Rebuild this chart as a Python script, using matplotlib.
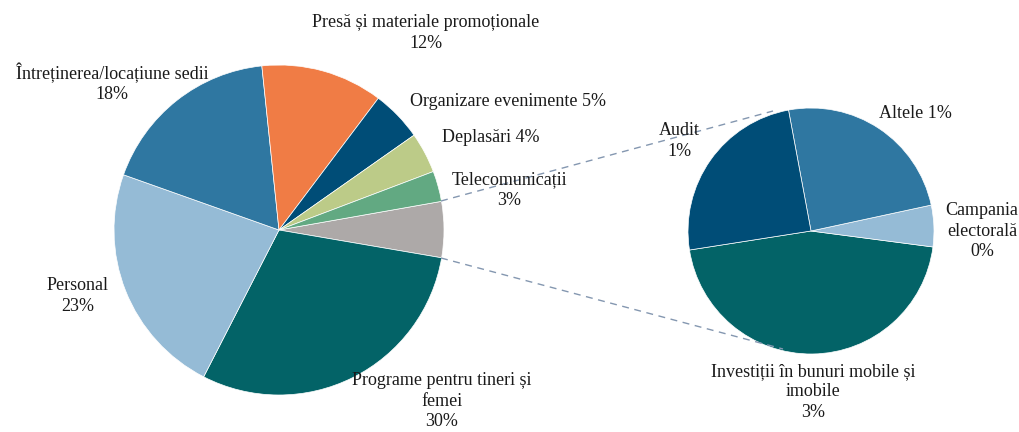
import matplotlib
matplotlib.use("Agg")
import matplotlib.pyplot as plt

# main pie, clockwise starting with the grouped "other" slice
main_labels = ["Programe pentru tineri și\nfemei", "Personal",
               "Întreținerea/locațiune sedii", "Presă și materiale promoționale",
               "Organizare evenimente", "Deplasări", "Telecomunicații"]
main_values = [30, 23, 18, 12, 5, 4, 3]
main_colors = ["#036367", "#95BBD6", "#2F77A1", "#F07C45",
               "#004D77", "#BCCB88", "#62A982"]
other_color = "#ADA9A8"

# secondary pie (breakdown of the grey slice)
sub_labels = ["Investiții în bunuri mobile și\nimobile", "Campania\nelectorală",
              "Altele", "Audit"]
sub_values = [2.5, 0.3, 1.35, 1.35]
sub_colors = ["#036367", "#95BBD6", "#2F77A1", "#004D77"]

W, H = 1019, 432


def pct(v):
    return f"{int(v + 0.5)}%"


fig = plt.figure(figsize=(W / 100, H / 100), dpi=100)
ax = fig.add_axes([0, 0, 1, 1])

font = dict(family="Liberation Serif", fontsize=13, color="#1a1a1a",
            ha="center", va="center", linespacing=1.25)

# main pie
ax.pie([sum(sub_values)] + main_values,
       colors=[other_color] + main_colors,
       startangle=10, counterclock=False,
       center=(279, H - 230), radius=165,
       wedgeprops=dict(edgecolor="white", linewidth=0.5))

# second pie
ax.pie(sub_values, colors=sub_colors,
       startangle=188.9, counterclock=True,
       center=(811, H - 231), radius=123,
       wedgeprops=dict(edgecolor="white", linewidth=0.5))

# connector lines
ax.plot([441, 773], [H - 201, H - 111], ls=(0, (5, 4)), color="#8497B0", lw=1)
ax.plot([441, 783], [H - 258, H - 349], ls=(0, (5, 4)), color="#8497B0", lw=1)

# data labels (positions as placed in the source chart)
ax.text(442, H - 401, f"{main_labels[0]}\n{pct(main_values[0])}", **font)
ax.text(78, H - 296, f"{main_labels[1]}\n{pct(main_values[1])}", **font)
ax.text(112, H - 83, f"{main_labels[2]}\n{pct(main_values[2])}", **font)
ax.text(426, H - 33, f"{main_labels[3]}\n{pct(main_values[3])}", **font)
ax.text(508, H - 102, f"{main_labels[4]} {pct(main_values[4])}", **font)
ax.text(491, H - 138, f"{main_labels[5]} {pct(main_values[5])}", **font)
ax.text(509, H - 190, f"{main_labels[6]}\n{pct(main_values[6])}", **font)

ax.text(813, H - 392, f"{sub_labels[0]}\n{pct(sub_values[0])}", **font)
ax.text(982, H - 231, f"{sub_labels[1]}\n{pct(sub_values[1])}", **font)
ax.text(915, H - 114, f"{sub_labels[2]} {pct(sub_values[2])}", **font)
ax.text(679, H - 141, f"{sub_labels[3]}\n{pct(sub_values[3])}", **font)

ax.set_xlim(0, W)
ax.set_ylim(0, H)
ax.set_aspect("equal")
ax.axis("off")

fig.savefig("out.png", dpi=100, facecolor="white")
